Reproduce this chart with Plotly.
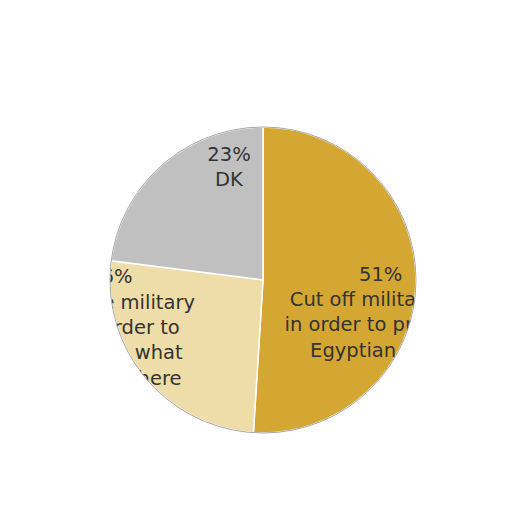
import numpy as np
import plotly.graph_objects as go

# Opinion shares (percent), clockwise from 12 o'clock
labels = ["Cut off military aid in order to pressure Egyptian gov't",
          "Continue military aid in order to influence what happens there",
          "DK"]
values = [51, 26, 23]
label_text = ["51%<br>Cut off military aid<br>in order to pressure<br>Egyptian gov't",
              "26%<br>Continue military<br>aid in order to<br>influence what<br>happens there",
              "23%<br>DK"]
colors = ["#D4A733", "#EEDCA9", "#C0C0C0"]

# where each label block sits (radius as share of pie, angle clockwise from top)
label_r = [0.80, 1.045, 0.76]
label_theta = [106, 252.1, 343]

vals = np.array(values, dtype=float)
widths = vals / vals.sum() * 360
starts = np.concatenate([[0], np.cumsum(widths)[:-1]])
centers = starts + widths / 2

# pie geometry in figure pixels (page body adds 8px offset)
W = H = 512
cx_px, cy_px, rad_px = 255, 272, 153
extra = 1.1  # radial room so labels past the rim are still drawn
cx, cy = cx_px / W, 1 - cy_px / H
rp = rad_px / W
rd = rp * extra

fig = go.Figure()

fig.add_trace(go.Barpolar(
    r=[1] * len(values),
    theta=centers,
    width=widths,
    marker=dict(color=colors, line=dict(color="white", width=1.5)),
    text=labels,
    hoverinfo="text",
    showlegend=False,
))

fig.add_trace(go.Scatterpolar(
    r=label_r,
    theta=label_theta,
    mode="text",
    text=label_text,
    textposition="middle center",
    textfont=dict(family="DejaVu Sans", size=19.5, color="#333333"),
    hoverinfo="skip",
    showlegend=False,
    cliponaxis=False,
))

# white mask with a round hole so label text is cut at the pie rim
ang = np.linspace(0, 2 * np.pi, 241)
hole = " ".join(f"L{cx + rp * np.cos(a):.5f},{cy + rp * np.sin(a):.5f}" for a in ang[1:])
mask_path = (f"M-0.2,-0.2 L1.2,-0.2 L1.2,1.2 L-0.2,1.2 Z "
             f"M{cx + rp:.5f},{cy:.5f} {hole} Z")

fig.update_layout(
    width=W,
    height=H,
    margin=dict(l=0, r=0, t=0, b=0),
    paper_bgcolor="white",
    polar=dict(
        domain=dict(x=[cx - rd, cx + rd], y=[cy - rd, cy + rd]),
        bgcolor="rgba(0,0,0,0)",
        bargap=0,
        radialaxis=dict(visible=False, range=[0, extra]),
        angularaxis=dict(direction="clockwise", rotation=90, showticklabels=False,
                         ticks="", showgrid=False, showline=False),
    ),
    shapes=[
        dict(type="path", xref="paper", yref="paper", path=mask_path,
             fillcolor="white", fillrule="evenodd", line=dict(width=0), layer="above"),
        dict(type="circle", xref="paper", yref="paper",
             x0=cx - rp, x1=cx + rp, y0=cy - rp, y1=cy + rp,
             line=dict(color="#A8A8A8", width=1), layer="above"),
    ],
)

fig.write_html("out.html")
